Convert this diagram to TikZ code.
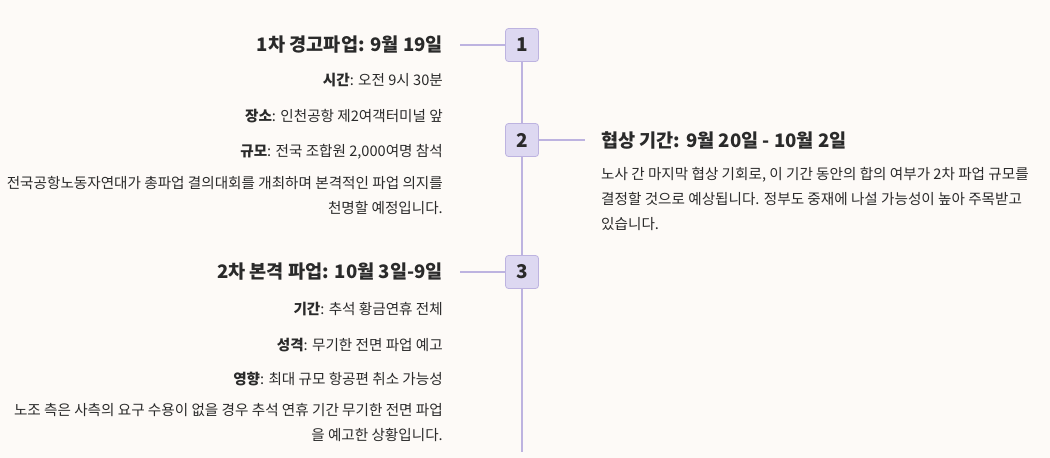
\documentclass[tikz,border=0pt]{standalone}
\usepackage{fontspec}
\setmainfont{Noto Sans CJK KR}
\definecolor{bg}{HTML}{FDFAF7}
\definecolor{lav}{HTML}{DDD8F1}
\definecolor{lavd}{HTML}{BDB3E0}
\definecolor{txt}{HTML}{2A2A2A}
\tikzset{
 numbox/.style={draw=lavd,fill=lav,rounded corners=3pt,minimum width=33pt,minimum height=33pt,font=\fontsize{19}{19}\selectfont\bfseries,text=txt,line width=0.8pt},
 ttl/.style={font=\fontsize{18.6}{20}\selectfont\bfseries,text=txt,inner sep=0pt},
 bd/.style={font=\fontsize{14.6}{25}\selectfont,text=txt,inner sep=0pt},
 conn/.style={draw=lavd,line width=1.2pt}
}
\begin{document}
\begin{tikzpicture}[x=1pt,y=-1pt]
\fill[bg] (0,0) rectangle (1050,458);
\useasboundingbox (0,0) rectangle (1050,458);
\coordinate (top) at (522,45);
\coordinate (bot) at (522,452);
\draw[conn] (top) -- (bot);
\node[numbox] (n1) at (522,45) {1};
\node[numbox] (n2) at (522,140) {2};
\node[numbox] (n3) at (522,272) {3};
\coordinate (c1) at (460,45);
\coordinate (c2) at (585,140);
\coordinate (c3) at (460,272);
\draw[conn] (n1.west) -- (c1);
\draw[conn] (n2.east) -- (c2);
\draw[conn] (n3.west) -- (c3);
\node[ttl,anchor=east] (t1) at (443,45) {1차 경고파업: 9월 19일};
\node[bd,anchor=east] (a1) at (443,80) {\textbf{시간}: 오전 9시 30분};
\node[bd,anchor=east] (a2) at (443,116) {\textbf{장소}: 인천공항 제2여객터미널 앞};
\node[bd,anchor=east] (a3) at (443,152) {\textbf{규모}: 전국 조합원 2,000여명 참석};
\node[bd,anchor=north east,align=right] (a4) at (443,176) {전국공항노동자연대가 총파업 결의대회를 개최하며 본격적인 파업 의지를\\천명할 예정입니다.};
\node[ttl,anchor=west] (t2) at (601,140) {협상 기간: 9월 20일 - 10월 2일};
\node[bd,anchor=north west,align=left] (b1) at (601,167) {노사 간 마지막 협상 기회로, 이 기간 동안의 합의 여부가 2차 파업 규모를\\결정할 것으로 예상됩니다. 정부도 중재에 나설 가능성이 높아 주목받고\\있습니다.};
\node[ttl,anchor=east] (t3) at (443,272) {2차 본격 파업: 10월 3일-9일};
\node[bd,anchor=east] (d1) at (443,309) {\textbf{기간}: 추석 황금연휴 전체};
\node[bd,anchor=east] (d2) at (443,345) {\textbf{성격}: 무기한 전면 파업 예고};
\node[bd,anchor=east] (d3) at (443,379) {\textbf{영향}: 최대 규모 항공편 취소 가능성};
\node[bd,anchor=north east,align=right] (d4) at (443,403) {노조 측은 사측의 요구 수용이 없을 경우 추석 연휴 기간 무기한 전면 파업\\을 예고한 상황입니다.};
\end{tikzpicture}
\end{document}
